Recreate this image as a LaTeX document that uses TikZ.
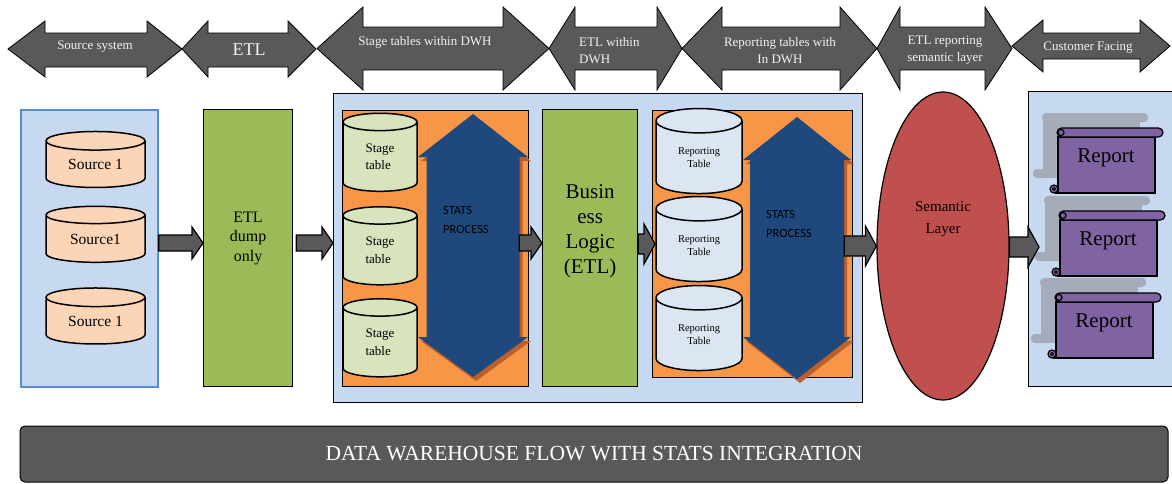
\documentclass[tikz,border=0pt]{standalone}
\usepackage{fontspec}
\setmainfont{Liberation Serif}
\newfontfamily\calibri{Carlito}
\usepackage{tikz}
\usetikzlibrary{shapes.geometric, calc, positioning}

\definecolor{dwgray}{HTML}{595959}
\definecolor{panelblue}{HTML}{C6D9F1}
\definecolor{srcedge}{HTML}{558ED5}
\definecolor{etlgreen}{HTML}{9BBB59}
\definecolor{stageorange}{HTML}{F79646}
\definecolor{srcpeach}{HTML}{FBD5B5}
\definecolor{stagegreen}{HTML}{D7E4BD}
\definecolor{reptable}{HTML}{DCE6F2}
\definecolor{statsblue}{HTML}{1F497D}
\definecolor{statsshade}{HTML}{B9602C}
\definecolor{semred}{HTML}{C0504D}
\definecolor{scrollpurple}{HTML}{8064A2}
\definecolor{scrollshade}{HTML}{A5ABB8}

% top band: double block arrow (x tip, x base, x base, x tip, head top, shaft top, shaft bottom, head bottom)
\newcommand{\bandarrow}[8]{%
  \draw[band] (#1,{(#5+#8)/2}) -- (#2,#5) -- (#2,#6) -- (#3,#6) -- (#3,#5) -- (#4,{(#5+#8)/2})
    -- (#3,#8) -- (#3,#7) -- (#2,#7) -- (#2,#8) -- cycle;}

% fat connector between two nodes (start, end, row, shaft half, head half)
\newcommand{\fatarrow}[5]{%
  \draw[fat] let \p1=(#1), \p2=(#2), \p3=(0,#3) in
    (\x1,\y3+#4) -- (\x2-11,\y3+#4) -- (\x2-11,\y3+#5) -- (\x2,\y3) -- (\x2-11,\y3-#5)
    -- (\x2-11,\y3-#4) -- (\x1,\y3-#4) -- cycle;}

% vertical stats arrow with its shadow (x, tip, base, base, tip, head half, shaft half)
\newcommand{\statsarrow}[7]{%
  \foreach \dx/\dy/\col in {3/4/statsshade, 0/0/statsblue}
    \fill[\col, shift={(\dx,\dy)}] (#1,#2) -- (#1+#6,#3) -- (#1+#7,#3) -- (#1+#7,#4) -- (#1+#6,#4)
      -- (#1,#5) -- (#1-#6,#4) -- (#1-#7,#4) -- (#1-#7,#3) -- (#1-#6,#3) -- cycle;}

% report scroll with its shadow (name, left, top)
\newcommand{\reportscroll}[3]{%
  \begin{scope}[shift={(#2,#3)}]
    \fill[scrollshade, rounded corners=4] (-15,-15) rectangle (91,-6);
    \fill[scrollshade] (-14,-8) rectangle (83,50);
    \fill[scrollshade, rounded corners=4] (-24,41) rectangle (-10,50);
    \draw[scroll] (1,9) rectangle (98,65);
    \draw[scroll] (-2,65) -- (1,65);
    \draw[scroll] (-3,61) circle (4);
    \draw[scroll, line width=0.8pt] (-3,61) circle (1.5);
    \draw[scroll, rounded corners=4.5] (0,0) rectangle (106,9);
    \draw[scroll] (4,4.5) circle (3);
    \node[reptext] (#1) at (49,30) {Report};
  \end{scope}}

\begin{document}
\begin{tikzpicture}[x=1pt, y=-1pt,
  band/.style={fill=dwgray, draw=black, line width=0.8pt},
  bandtext/.style={text=white!95!black, font=\fontsize{13}{17}\selectfont, align=center, inner sep=0pt},
  fat/.style={fill=dwgray, draw=black, line width=1.2pt},
  panel/.style={rectangle, fill=#1, draw=black, line width=1.2pt, inner sep=0pt, anchor=north west},
  cyl/.style={cylinder, shape border rotate=90, draw=black, line width=1.5pt, fill=#1, inner sep=0pt},
  scroll/.style={fill=scrollpurple, draw=black, line width=1.2pt},
  reptext/.style={font=\fontsize{21}{24}\selectfont, inner sep=0pt},
  stats/.style={font=\calibri\fontsize{12.5}{19}\selectfont, align=left, anchor=west, inner sep=0pt},
]
  \useasboundingbox (0,0) rectangle (1172,483);

  % top band
  \bandarrow{8}{45}{147}{182}{21}{33}{67}{77}
  \bandarrow{182}{208}{288}{316}{21}{33}{67}{77}
  \bandarrow{317}{363}{503}{549}{7}{27}{70}{90}
  \bandarrow{549}{575}{657}{682}{7}{27}{70}{90}
  \bandarrow{682}{722}{840}{877}{7}{27}{70}{90}
  \bandarrow{877}{900}{985}{1012}{7}{27}{70}{90}
  \bandarrow{1012}{1043}{1140}{1170}{20}{33}{59}{72}
  \node[bandtext] (lblsrc) at (95,47) {Source system};
  \node[bandtext, font=\fontsize{18}{20}\selectfont] (lbletl) at (249,50) {ETL};
  \node[bandtext] (lblstage) at (425,42) {Stage tables within DWH};
  \node[bandtext, align=left, anchor=west] (lblinner) at (579,50.5) {ETL within\\DWH};
  \node[bandtext] (lblrep) at (780,50.5) {Reporting tables with\\In DWH};
  \node[bandtext] (lblsem) at (945,50.5) {ETL reporting\\semantic layer};
  \node[bandtext] (lblcust) at (1088,48) {Customer Facing};

  % sources
  \node[panel=panelblue, draw=srcedge, line width=1.8pt, minimum width=137, minimum height=277] (srcbox) at (20,109) {};
  \foreach \n/\y/\t in {1/164.5/Source 1, 2/239/Source1, 3/321/Source 1}
    \node[cyl=srcpeach, aspect=0.34, minimum width=99, minimum height=56,
      font=\fontsize{15.5}{18}\selectfont] (src\n) at (95.5,\y) {\t};

  % ETL dump
  \node[panel=etlgreen, minimum width=89, minimum height=277] (etldump) at (203,109) {};
  \node[font=\fontsize{16}{19.5}\selectfont, align=center] (etltext) at ([yshift=10pt]etldump.center) {ETL\\dump\\only};

  % data warehouse
  \node[panel=panelblue, minimum width=529, minimum height=309] (dwh) at (333,93) {};
  \node[panel=stageorange, minimum width=186, minimum height=276] (stagebox) at (342,110) {};
  \foreach \n/\y in {1/157, 2/250.5, 3/342.5}
    \node[cyl=stagegreen, aspect=0.6, minimum width=74, minimum height=78,
      font=\fontsize{13}{17.5}\selectfont, align=left] (stage\n) at (380,\y) {Stage\\table};
  \statsarrow{473}{114}{157}{337}{377}{55}{46.5}
  \node[stats] (stats1) at (443,220) {STATS\\PROCESS};

  \node[panel=etlgreen, minimum width=95, minimum height=277] (bizlogic) at (542,109) {};
  \node[font=\fontsize{21}{25}\selectfont, align=center] (biztext) at ([yshift=17pt]bizlogic.center) {Busin\\ess\\Logic\\(ETL)};

  \node[panel=stageorange, minimum width=200, minimum height=267] (repbox) at (652,110) {};
  \foreach \n/\y in {1/157.5, 2/245.5, 3/334.5}
    \node[cyl=reptable, aspect=0.58, minimum width=86, minimum height=85,
      font=\fontsize{10.5}{13.5}\selectfont, align=center] (rep\n) at (699,\y) {Reporting\\Table};
  \statsarrow{797}{117}{160}{337}{379}{54}{47}
  \node[stats] (stats2) at (766,224) {STATS\\PROCESS};

  % semantic layer
  \node[ellipse, fill=semred, draw=black, line width=1.2pt, minimum width=132, minimum height=308] (semantic) at (943,246) {};
  \node[font=\fontsize{15}{22}\selectfont, align=center] (semtext) at ([yshift=27pt]semantic.center) {Semantic\\Layer};

  % reports
  \node[panel=panelblue, minimum width=150, minimum height=295, line width=1pt] (reports) at (1028,91) {};
  \reportscroll{report1}{1057}{128}
  \reportscroll{report2}{1059}{211}
  \reportscroll{report3}{1055}{293}

  % flow connectors
  \fatarrow{srcbox.east}{etldump.west}{243}{8}{16}
  \fatarrow{[xshift=3pt]etldump.east}{dwh.west}{243}{8}{16}
  \fatarrow{[xshift=-10pt]stagebox.east}{bizlogic.west}{243}{8}{16}
  \fatarrow{bizlogic.east}{[xshift=3pt]repbox.west}{244}{10}{20}
  \fatarrow{[xshift=-9pt]repbox.east}{semantic.west}{246}{10}{20}
  \fatarrow{semantic.east}{[xshift=11pt]reports.west}{247}{10}{20}

  % caption bar
  \node[rectangle, rounded corners=5pt, fill=dwgray, draw=black, line width=1pt, minimum width=1148, minimum height=56,
    text=white, font=\fontsize{21.5}{24}\selectfont] (caption) at (594,454) {DATA WAREHOUSE FLOW WITH STATS INTEGRATION};
\end{tikzpicture}
\end{document}
